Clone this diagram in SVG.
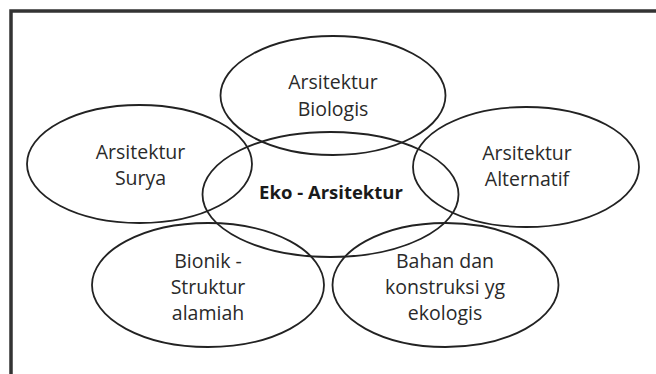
<svg xmlns="http://www.w3.org/2000/svg" width="656" height="374" viewBox="0 0 656 374">
<style>
.e{fill:none;stroke:#222;stroke-width:1.8}
.t{font-family:"Open Sans","Liberation Sans",sans-serif;font-size:19.5px;fill:#2a2a2a;text-anchor:middle}
.b{font-weight:bold;font-size:18.5px;fill:#1a1a1a}
</style>
<rect width="656" height="374" fill="#fff"/>
<path d="M11,374 V11 H656" fill="none" stroke="#333" stroke-width="3.5"/>
<g id="center"><ellipse class="e" cx="330.5" cy="194.5" rx="128" ry="62.5"/><text class="t b" x="331" y="199">Eko - Arsitektur</text></g>
<g id="biologis"><ellipse class="e" cx="333" cy="95.5" rx="112.5" ry="59.5"/><text class="t" x="333" y="89">Arsitektur</text><text class="t" x="333" y="116">Biologis</text></g>
<g id="surya"><ellipse class="e" cx="139.5" cy="164" rx="112.5" ry="59"/><text class="t" x="140.5" y="159">Arsitektur</text><text class="t" x="140.5" y="185">Surya</text></g>
<g id="alternatif"><ellipse class="e" cx="526" cy="167" rx="113" ry="60"/><text class="t" x="527" y="160">Arsitektur</text><text class="t" x="527" y="186">Alternatif</text></g>
<g id="bionik"><ellipse class="e" cx="208" cy="285" rx="116" ry="62"/><text class="t" x="208" y="268">Bionik -</text><text class="t" x="208" y="294">Struktur</text><text class="t" x="208" y="320">alamiah</text></g>
<g id="bahan"><ellipse class="e" cx="445.5" cy="285" rx="113" ry="62"/><text class="t" x="445" y="268">Bahan dan</text><text class="t" x="445" y="294">konstruksi yg</text><text class="t" x="445" y="320">ekologis</text></g>
<g id="connectors"/>
</svg>
